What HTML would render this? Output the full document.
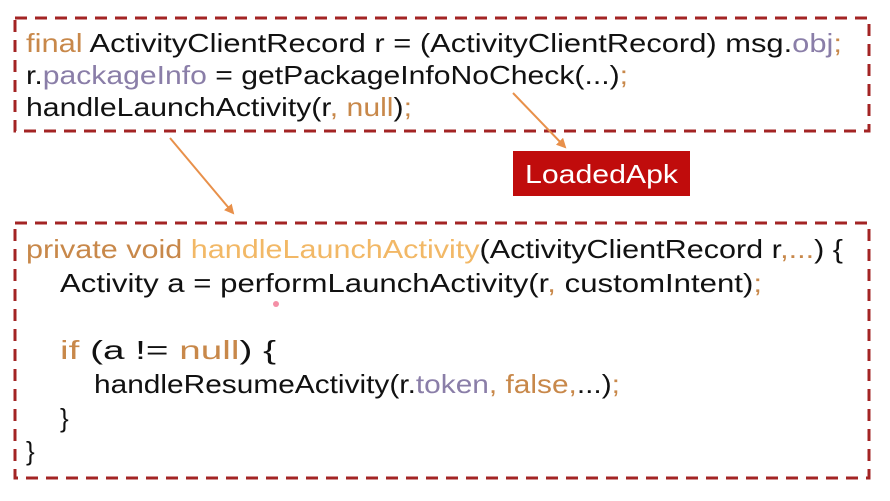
<!DOCTYPE html>
<html><head><style>body{margin:0;background:#fff}</style></head><body>
<svg width="890" height="496" xmlns="http://www.w3.org/2000/svg" font-family="'Liberation Sans',sans-serif" font-size="26">
<defs><marker id="a" markerWidth="10" markerHeight="10" refX="8" refY="5" orient="auto" markerUnits="userSpaceOnUse"><path d="M0,0 L10,5 L0,10 z" fill="#e8904a"/></marker></defs>
<rect x="15" y="18" width="854" height="113" fill="none" stroke="#a32424" stroke-width="3" stroke-dasharray="12 8"/>
<rect x="15" y="223" width="854" height="255" fill="none" stroke="#a32424" stroke-width="3" stroke-dasharray="12 8"/>
<rect x="513" y="151" width="177" height="45" fill="#c00c0c"/>
<text x="525" y="183" fill="#fff" textLength="153" lengthAdjust="spacingAndGlyphs">LoadedApk</text>
<line x1="170" y1="138" x2="233" y2="213" stroke="#e8904a" stroke-width="2" marker-end="url(#a)"/>
<line x1="513" y1="93" x2="565" y2="147" stroke="#e8904a" stroke-width="2" marker-end="url(#a)"/>
<circle cx="276" cy="304" r="3" fill="#f06080" opacity="0.7"/>
<g fill="#111" lengthAdjust="spacingAndGlyphs">
<text x="26" y="52" textLength="816" lengthAdjust="spacingAndGlyphs"><tspan fill="#c8884a">final</tspan> ActivityClientRecord r = (ActivityClientRecord) msg.<tspan fill="#8a7ea8">obj</tspan><tspan fill="#c8884a">;</tspan></text>
<text x="26" y="84" textLength="602" lengthAdjust="spacingAndGlyphs">r.<tspan fill="#8a7ea8">packageInfo</tspan> = getPackageInfoNoCheck(...)<tspan fill="#c8884a">;</tspan></text>
<text x="26" y="116" textLength="386" lengthAdjust="spacingAndGlyphs">handleLaunchActivity(r<tspan fill="#c8884a">, null</tspan>)<tspan fill="#c8884a">;</tspan></text>
<text x="26" y="258" textLength="817" lengthAdjust="spacingAndGlyphs"><tspan fill="#c8884a">private void </tspan><tspan fill="#f2b866">handleLaunchActivity</tspan>(ActivityClientRecord r<tspan fill="#c8884a">,...</tspan>) {</text>
<text x="60" y="292" textLength="702" lengthAdjust="spacingAndGlyphs">Activity a = performLaunchActivity(r<tspan fill="#c8884a">,</tspan> customIntent)<tspan fill="#c8884a">;</tspan></text>
<text x="60" y="359" textLength="216" lengthAdjust="spacingAndGlyphs"><tspan fill="#c8884a">if</tspan> (a != <tspan fill="#c8884a">null</tspan>) {</text>
<text x="94" y="393" textLength="526" lengthAdjust="spacingAndGlyphs">handleResumeActivity(r.<tspan fill="#8a7ea8">token</tspan><tspan fill="#c8884a">, false,</tspan>...)<tspan fill="#c8884a">;</tspan></text>
<text x="60" y="427">}</text>
<text x="26" y="460">}</text>
</g>
</svg>
</body></html>
